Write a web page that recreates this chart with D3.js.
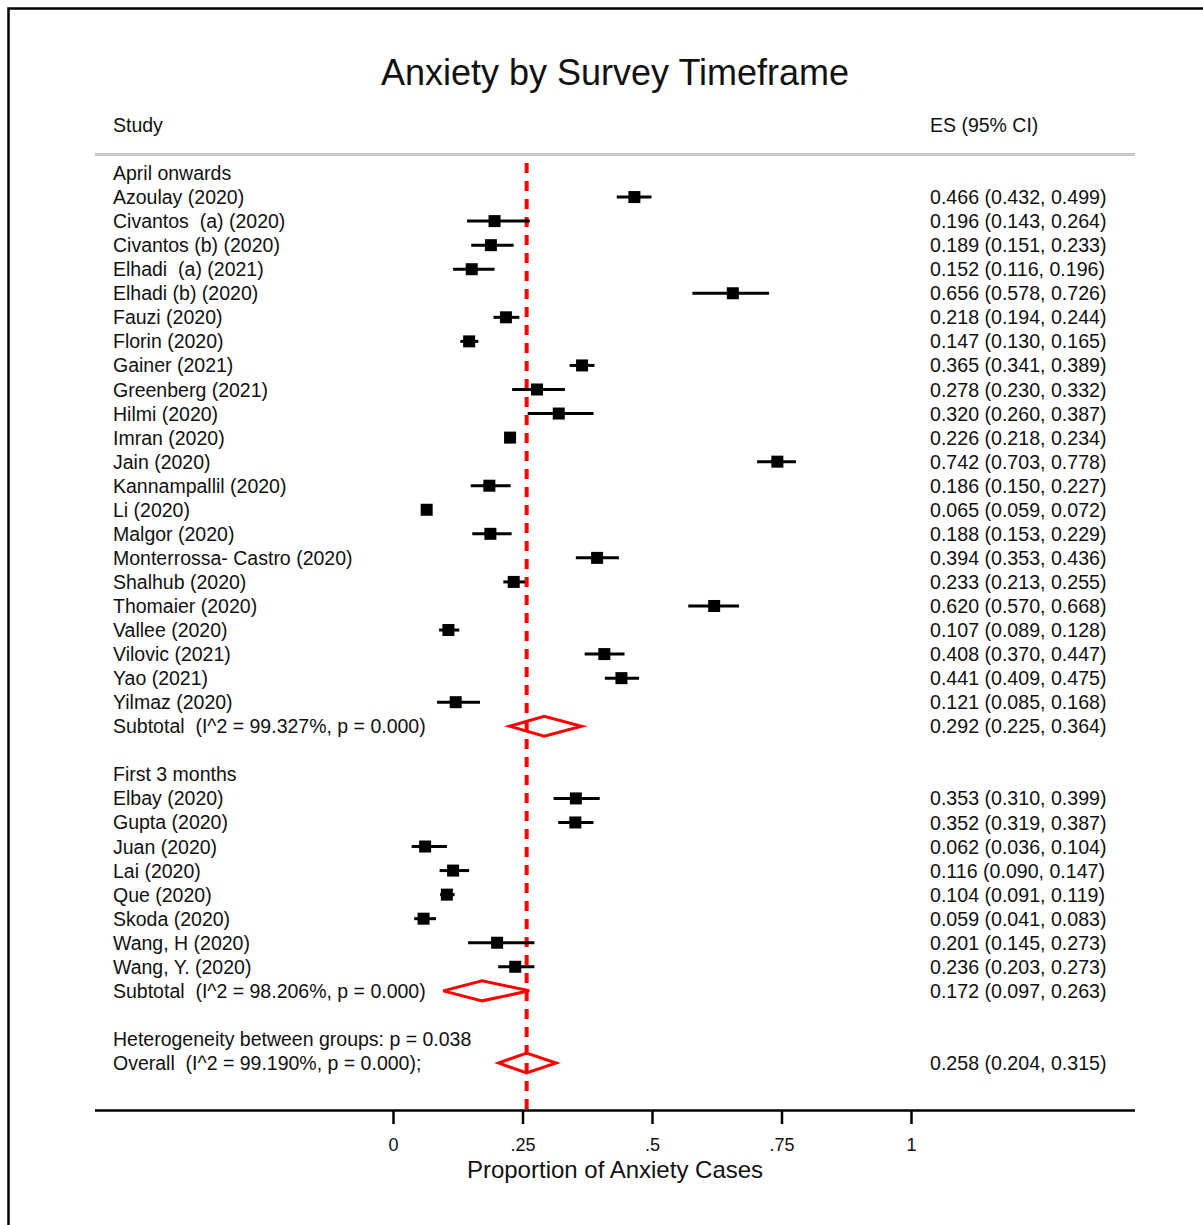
<!DOCTYPE html>
<html>
<head>
<meta charset="utf-8">
<script src="https://cdn.jsdelivr.net/npm/d3@7"></script>
<style>
  body { margin: 0; background: #fff; }
  svg text { font-family: "Liberation Sans", Arial, Helvetica, sans-serif; fill: #111; white-space: pre; }
</style>
</head>
<body>
<div id="plot"></div>
<script>
var width = 1203;
var height = 1225;

// study rows, group 1 = April onwards, group 2 = First 3 months
var aprilStudies = ["Azoulay (2020)", "Civantos  (a) (2020)", "Civantos (b) (2020)", "Elhadi  (a) (2021)",
  "Elhadi (b) (2020)", "Fauzi (2020)", "Florin (2020)", "Gainer (2021)", "Greenberg (2021)", "Hilmi (2020)",
  "Imran (2020)", "Jain (2020)", "Kannampallil (2020)", "Li (2020)", "Malgor (2020)",
  "Monterrossa- Castro (2020)", "Shalhub (2020)", "Thomaier (2020)", "Vallee (2020)", "Vilovic (2021)",
  "Yao (2021)", "Yilmaz (2020)"];
var aprilES = [0.466, 0.196, 0.189, 0.152, 0.656, 0.218, 0.147, 0.365, 0.278, 0.320, 0.226, 0.742, 0.186,
  0.065, 0.188, 0.394, 0.233, 0.620, 0.107, 0.408, 0.441, 0.121];
var aprilLo = [0.432, 0.143, 0.151, 0.116, 0.578, 0.194, 0.130, 0.341, 0.230, 0.260, 0.218, 0.703, 0.150,
  0.059, 0.153, 0.353, 0.213, 0.570, 0.089, 0.370, 0.409, 0.085];
var aprilHi = [0.499, 0.264, 0.233, 0.196, 0.726, 0.244, 0.165, 0.389, 0.332, 0.387, 0.234, 0.778, 0.227,
  0.072, 0.229, 0.436, 0.255, 0.668, 0.128, 0.447, 0.475, 0.168];

var firstStudies = ["Elbay (2020)", "Gupta (2020)", "Juan (2020)", "Lai (2020)", "Que (2020)",
  "Skoda (2020)", "Wang, H (2020)", "Wang, Y. (2020)"];
var firstES = [0.353, 0.352, 0.062, 0.116, 0.104, 0.059, 0.201, 0.236];
var firstLo = [0.310, 0.319, 0.036, 0.090, 0.091, 0.041, 0.145, 0.203];
var firstHi = [0.399, 0.387, 0.104, 0.147, 0.119, 0.083, 0.273, 0.273];

var subtotalLabels = ["Subtotal  (I^2 = 99.327%, p = 0.000)", "Subtotal  (I^2 = 98.206%, p = 0.000)"];
var subtotalES = [0.292, 0.172];
var subtotalLo = [0.225, 0.097];
var subtotalHi = [0.364, 0.263];

var groupNames = ["April onwards", "First 3 months"];
var heterogeneityText = "Heterogeneity between groups: p = 0.038";
var overallLabel = "Overall  (I^2 = 99.190%, p = 0.000);";
var overallES = 0.258, overallLo = 0.204, overallHi = 0.315;

var xTicks = [0, 0.25, 0.5, 0.75, 1];
var xTickLabels = ["0", ".25", ".5", ".75", "1"];

var fmt = d3.format(".3f");
function esText(e, l, h) { return fmt(e) + " (" + fmt(l) + ", " + fmt(h) + ")"; }

// build row list
var rows = [];
rows.push({type: "group", label: groupNames[0]});
aprilStudies.forEach(function(s, i) {
  rows.push({type: "study", label: s, es: aprilES[i], lo: aprilLo[i], hi: aprilHi[i]});
});
rows.push({type: "sub", label: subtotalLabels[0], es: subtotalES[0], lo: subtotalLo[0], hi: subtotalHi[0]});
rows.push({type: "blank"});
rows.push({type: "group", label: groupNames[1]});
firstStudies.forEach(function(s, i) {
  rows.push({type: "study", label: s, es: firstES[i], lo: firstLo[i], hi: firstHi[i]});
});
rows.push({type: "sub", label: subtotalLabels[1], es: subtotalES[1], lo: subtotalLo[1], hi: subtotalHi[1]});
rows.push({type: "blank"});
rows.push({type: "group", label: heterogeneityText});
rows.push({type: "sub", label: overallLabel, es: overallES, lo: overallLo, hi: overallHi});
rows.forEach(function(r, i) { r.idx = i; });

var x = d3.scaleLinear().domain([0, 1]).range([393, 911]);
var y = d3.scaleLinear().domain([0, rows.length - 1]).range([173, 1063]);

var svg = d3.select("div#plot")
  .append("svg")
  .attr("width", width)
  .attr("height", height);

svg.append("rect").attr("width", width).attr("height", height).attr("fill", "#fff");

// outer frame (right/bottom edges fall outside the picture)
svg.append("rect")
  .attr("x", 8.5).attr("y", 8.5)
  .attr("width", 1400).attr("height", 1400)
  .attr("fill", "none")
  .attr("stroke", "#000")
  .attr("stroke-width", 2.5);

svg.append("text")
  .attr("x", 615).attr("y", 85)
  .attr("text-anchor", "middle")
  .style("font-size", "36px")
  .text("Anxiety by Survey Timeframe");

svg.append("text").attr("x", 113).attr("y", 132).style("font-size", "19.5px").text("Study");
svg.append("text").attr("x", 930).attr("y", 132).style("font-size", "19.5px").text("ES (95% CI)");

svg.append("line")
  .attr("x1", 95).attr("x2", 1135)
  .attr("y1", 154.5).attr("y2", 154.5)
  .attr("stroke", "#c8c8c8").attr("stroke-width", 3);

// overall reference line
svg.append("line")
  .attr("x1", x(overallES)).attr("x2", x(overallES))
  .attr("y1", 163).attr("y2", 1110)
  .attr("stroke", "#ff0000")
  .attr("stroke-width", 4)
  .attr("stroke-dasharray", "10,8");

// left labels
svg.selectAll("text.lbl")
  .data(rows.filter(function(r) { return r.label; }))
  .enter().append("text")
  .attr("class", "lbl")
  .attr("x", 113)
  .attr("y", function(r) { return y(r.idx); })
  .attr("dy", "0.36em")
  .attr("xml:space", "preserve")
  .style("font-size", "19.5px")
  .text(function(r) { return r.label; });

// right ES text
svg.selectAll("text.es")
  .data(rows.filter(function(r) { return r.es !== undefined; }))
  .enter().append("text")
  .attr("class", "es")
  .attr("x", 930)
  .attr("y", function(r) { return y(r.idx); })
  .attr("dy", "0.36em")
  .style("font-size", "19.6px")
  .text(function(r) { return esText(r.es, r.lo, r.hi); });

var studies = rows.filter(function(r) { return r.type === "study"; });

svg.selectAll("line.ci")
  .data(studies)
  .enter().append("line")
  .attr("class", "ci")
  .attr("x1", function(r) { return x(r.lo); })
  .attr("x2", function(r) { return x(r.hi); })
  .attr("y1", function(r) { return y(r.idx); })
  .attr("y2", function(r) { return y(r.idx); })
  .attr("stroke", "#000")
  .attr("stroke-width", 3);

var box = 12;
svg.selectAll("rect.box")
  .data(studies)
  .enter().append("rect")
  .attr("class", "box")
  .attr("x", function(r) { return x(r.es) - box / 2; })
  .attr("y", function(r) { return y(r.idx) - box / 2; })
  .attr("width", box).attr("height", box)
  .attr("fill", "#000");

// diamonds for subtotals and overall
svg.selectAll("path.dia")
  .data(rows.filter(function(r) { return r.type === "sub"; }))
  .enter().append("path")
  .attr("class", "dia")
  .attr("d", function(r) {
    var cy = y(r.idx);
    return "M" + x(r.lo) + "," + cy + "L" + x(r.es) + "," + (cy - 10) +
      "L" + x(r.hi) + "," + cy + "L" + x(r.es) + "," + (cy + 10) + "Z";
  })
  .attr("fill", "none")
  .attr("stroke", "#ff0000")
  .attr("stroke-width", 3);

// x axis
svg.append("line")
  .attr("x1", 95).attr("x2", 1135)
  .attr("y1", 1110.5).attr("y2", 1110.5)
  .attr("stroke", "#000").attr("stroke-width", 2.5);

var xAxis = d3.axisBottom(x)
  .tickValues(xTicks)
  .tickSize(14)
  .tickPadding(14)
  .tickFormat(function(d, i) { return xTickLabels[i]; });

var gx = svg.append("g")
  .attr("transform", "translate(0,1110)")
  .call(xAxis);
gx.select(".domain").remove();
gx.selectAll(".tick line").attr("stroke", "#000").attr("stroke-width", 2.5);
gx.selectAll(".tick text")
  .style("font-family", "'Liberation Sans', Arial, Helvetica, sans-serif")
  .style("font-size", "18px")
  .attr("fill", "#111");

svg.append("text")
  .attr("x", 615).attr("y", 1178)
  .attr("text-anchor", "middle")
  .style("font-size", "24px")
  .text("Proportion of Anxiety Cases");
</script>
</body>
</html>
